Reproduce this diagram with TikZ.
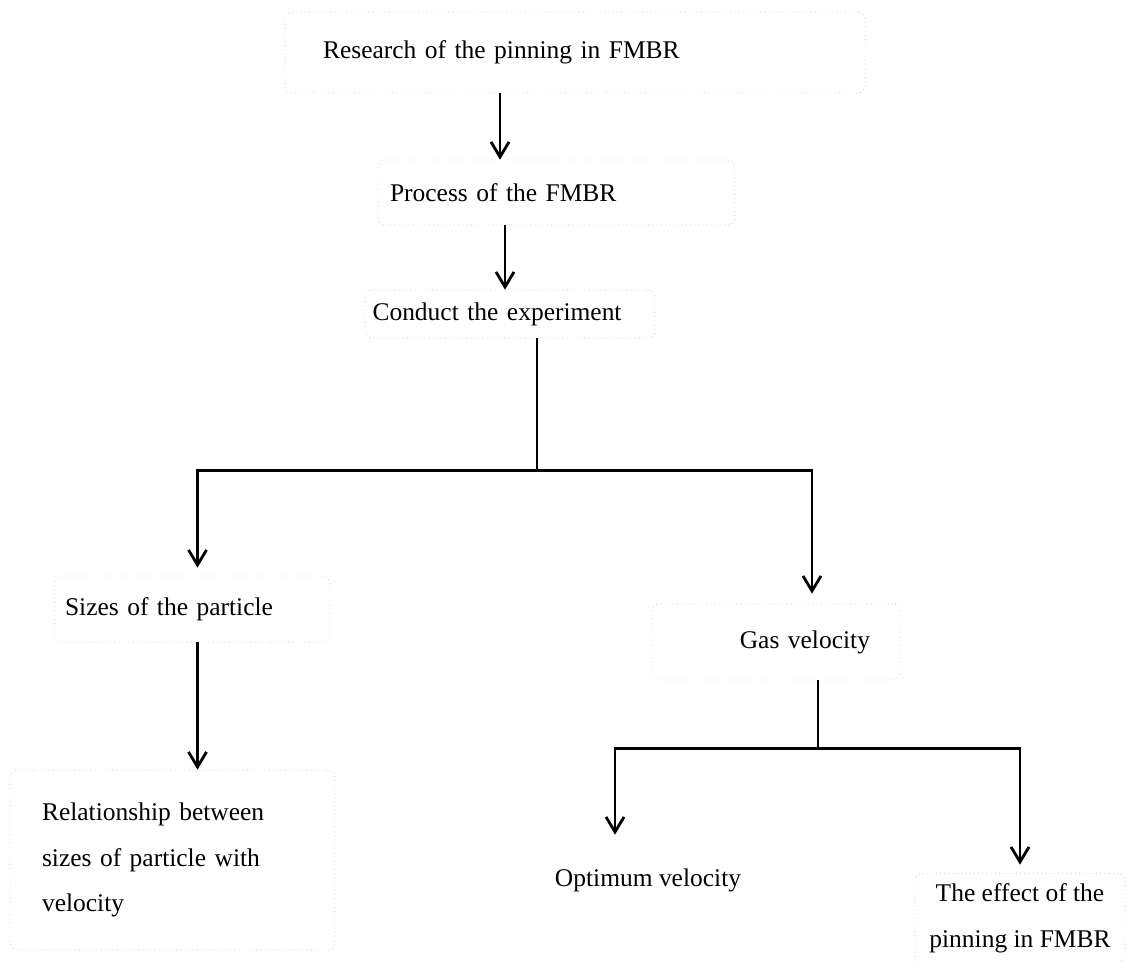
\documentclass[tikz,border=0pt]{standalone}
\usepackage{fontspec}
\setmainfont{Liberation Serif}
\usetikzlibrary{arrows.meta,positioning,calc}

\begin{document}
\begin{tikzpicture}[
  x=0.02cm, y=-0.02cm,
  box/.style={draw=gray!45, dotted, rounded corners=4pt, inner sep=0pt, align=center, font=\fontsize{14.5}{26}\selectfont},
  arr/.style={-{Straight Barb[length=3mm,width=3.6mm]}, line width=1.6pt},
  line/.style={line width=1.6pt}
]
\useasboundingbox (0,0) rectangle (1133,962);

\node[box, minimum width=11.6cm, minimum height=1.62cm, text width=10.08cm, align=left] (res) at (575,52.5) {Research of the pinning in FMBR};
\node[box, minimum width=7.14cm, minimum height=1.3cm, text width=6.66cm, align=left] (proc) at (556.5,192.5) {Process of the FMBR};
\node[box, minimum width=5.8cm, minimum height=0.96cm, text width=5.5cm, align=left] (cond) at (510,314) {Conduct the experiment};

\node[box, minimum width=5.5cm, minimum height=1.32cm, text width=5.1cm, align=left] (sizes) at (192.5,609) {Sizes of the particle};
\node[box, minimum width=4.96cm, minimum height=1.52cm, text width=3.76cm, align=right] (gas) at (776,642) {Gas velocity};

\node[box, minimum width=6.5cm, minimum height=3.6cm, text width=5.22cm, align=left] (rel) at (172.5,860) {Relationship between\\sizes of particle with\\velocity};
\node[box, draw=none, minimum height=1.8cm] (opt) at (648,880) {Optimum velocity};
\node[box, minimum width=4.2cm, minimum height=1.78cm] (eff) at (1020,918) {The effect of the\\pinning in FMBR};

\draw[arr] ([xshift=-1.5cm]res.south) -- ([xshift=-1.5cm]res.south |- proc.north);
\draw[arr] ([xshift=-1.03cm]proc.south) -- ([xshift=-1.03cm]proc.south |- cond.north);

\draw[line] ([xshift=0.54cm]cond.south) -- ++(0,132) coordinate (j1);
\draw[arr, shorten >=0.16cm] (j1) -| ([xshift=0.1cm]sizes.north);
\draw[arr, shorten >=0.2cm] (j1) -| ([xshift=0.72cm]gas.north);
\draw[arr] ([xshift=0.1cm]sizes.south) -- ([xshift=0.1cm]sizes.south |- rel.north);

\draw[line] ([xshift=0.84cm]gas.south) -- ++(0,68) coordinate (j2);
\draw[arr] (j2) -| ([yshift=0.17cm]eff.north);
\draw[arr] (j2) -| ([xshift=-0.66cm]opt.north);

\end{tikzpicture}
\end{document}
